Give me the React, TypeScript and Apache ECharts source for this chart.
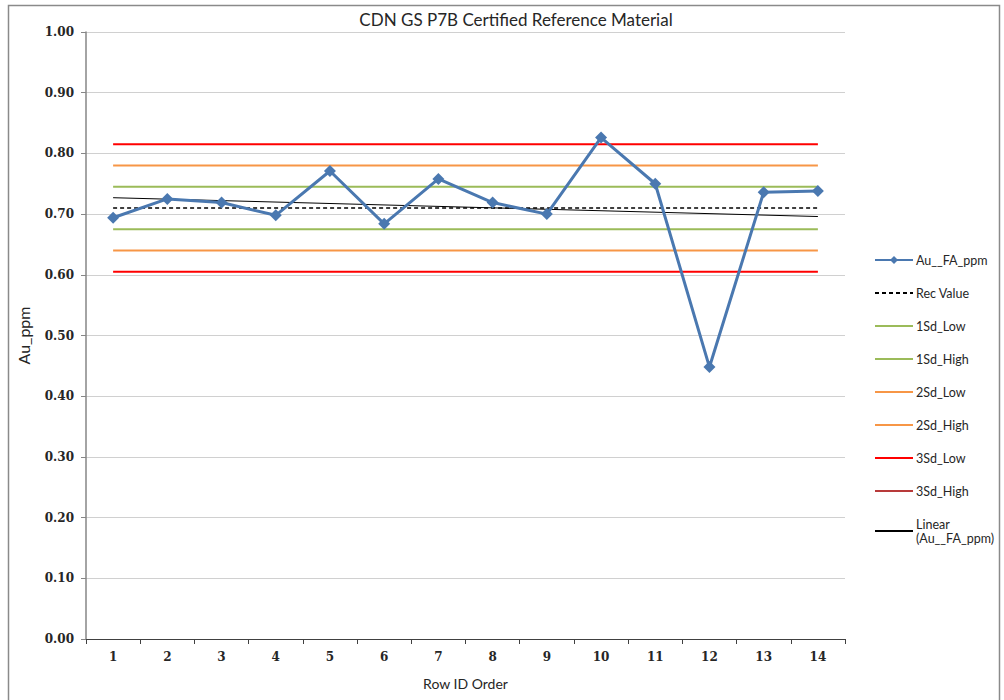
import React, { useEffect, useRef } from "react";
import * as echarts from "echarts";

const categories = ["1", "2", "3", "4", "5", "6", "7", "8", "9", "10", "11", "12", "13", "14"];
const auValues = [0.694, 0.725, 0.719, 0.698, 0.771, 0.684, 0.758, 0.719, 0.700, 0.826, 0.750, 0.448, 0.736, 0.738];
const recValue = 0.71;
const sd1Low = 0.675;
const sd1High = 0.745;
const sd2Low = 0.64;
const sd2High = 0.78;
const sd3Low = 0.605;
const sd3High = 0.815;
const trendStart = 0.727;
const trendEnd = 0.696;
const yTicks = [0, 0.1, 0.2, 0.3, 0.4, 0.5, 0.6, 0.7, 0.8, 0.9, 1.0];

const FIRST = categories[0];
const LAST = categories[categories.length - 1];

function refLine(name: string, v: number, color: string, dashed = false, width = 2) {
  return {
    name,
    type: "line",
    data: [[FIRST, v], [LAST, v]],
    symbol: "none",
    lineStyle: { color, width, type: dashed ? [4, 3] : "solid" },
    itemStyle: { color },
    z: 2,
  };
}

const hideSym = { opacity: 0 };

export default function App() {
  const ref = useRef<HTMLDivElement>(null);
  useEffect(() => {
    if (!ref.current) return;
    const chart = echarts.init(ref.current, null, { renderer: "svg" });
    const sans = "Lato";
    const serif = "DejaVu Serif";
    chart.setOption({
      animation: false,
      backgroundColor: "#ffffff",
      grid: { left: 86, right: 159, top: 32, bottom: 61, containLabel: false },
      graphic: [
        {
          type: "rect",
          shape: { x: 8.5, y: 5.5, width: 991, height: 700 },
          style: { fill: "none", stroke: "#8a8a8a", lineWidth: 1.5 },
          silent: true,
        },
        {
          type: "text",
          x: 516,
          y: 19,
          style: {
            text: "CDN GS P7B Certified Reference Material",
            fontFamily: sans,
            fontSize: 17,
            fill: "#262626",
            textAlign: "center",
            textVerticalAlign: "middle",
          },
        },
      ],
      legend: {
        orient: "vertical",
        left: 874,
        top: 253,
        padding: 0,
        itemWidth: 38,
        itemHeight: 10,
        itemGap: 19,
        textStyle: { fontFamily: sans, fontSize: 12.5, color: "#262626", lineHeight: 14, padding: [0, 0, 0, -2] },
        formatter: (n: string) => (n === "Linear (Au__FA_ppm)" ? "Linear\n(Au__FA_ppm)" : n),
        data: [
          "Au__FA_ppm",
          { name: "Rec Value", itemStyle: hideSym },
          { name: "1Sd_Low", itemStyle: hideSym },
          { name: "1Sd_High", itemStyle: hideSym },
          { name: "2Sd_Low", itemStyle: hideSym },
          { name: "2Sd_High", itemStyle: hideSym },
          { name: "3Sd_Low", itemStyle: hideSym },
          { name: "3Sd_High", itemStyle: { opacity: 0, color: "#b83a3a" }, lineStyle: { color: "#b83a3a" } },
          { name: "Linear (Au__FA_ppm)", itemStyle: hideSym },
        ],
      },
      xAxis: {
        type: "category",
        data: categories,
        boundaryGap: true,
        name: "Row ID Order",
        nameLocation: "middle",
        nameGap: 37,
        nameTextStyle: { fontFamily: sans, fontSize: 14, color: "#262626" },
        axisLine: { lineStyle: { color: "#404040", width: 1 } },
        axisTick: { show: true, length: 5, lineStyle: { color: "#404040" } },
        axisLabel: { fontFamily: serif, fontSize: 12, fontWeight: "bold", color: "#262626", margin: 12 },
        splitLine: { show: false },
      },
      yAxis: {
        type: "value",
        min: 0,
        max: 1,
        interval: 0.1,
        name: "Au_ppm",
        nameLocation: "middle",
        nameGap: 55,
        nameTextStyle: { fontFamily: sans, fontSize: 16, color: "#262626" },
        axisLine: { show: true, lineStyle: { color: "#868686", width: 1.5 } },
        axisTick: { show: true, length: 5, lineStyle: { color: "#868686" } },
        axisLabel: {
          fontFamily: serif,
          fontSize: 12,
          fontWeight: "bold",
          color: "#262626",
          margin: 12,
          formatter: (v: number) => {
            const t = yTicks.find((x) => Math.abs(x - v) < 1e-6);
            return (t !== undefined ? t : v).toFixed(2);
          },
        },
        splitLine: { show: true, lineStyle: { color: "#d0d0d0", width: 1 } },
      },
      series: [
        {
          name: "Au__FA_ppm",
          type: "line",
          data: auValues,
          symbol: "diamond",
          symbolSize: 12,
          lineStyle: { color: "#4a78b0", width: 3 },
          itemStyle: { color: "#4a78b0" },
          z: 5,
        },
        refLine("Rec Value", recValue, "#000000", true, 1.6),
        refLine("1Sd_Low", sd1Low, "#9bbb59"),
        refLine("1Sd_High", sd1High, "#9bbb59"),
        refLine("2Sd_Low", sd2Low, "#f79646"),
        refLine("2Sd_High", sd2High, "#f79646"),
        refLine("3Sd_Low", sd3Low, "#ff0000"),
        refLine("3Sd_High", sd3High, "#ff0000"),
        {
          name: "Linear (Au__FA_ppm)",
          type: "line",
          data: [[FIRST, trendStart], [LAST, trendEnd]],
          symbol: "none",
          lineStyle: { color: "#000000", width: 1 },
          itemStyle: { color: "#000000" },
          z: 4,
        },
      ],
    });
    return () => chart.dispose();
  }, []);
  return (
    <div
      ref={ref}
      style={{ position: "absolute", left: 0, top: 0, width: 1004, height: 700 }}
    />
  );
}
